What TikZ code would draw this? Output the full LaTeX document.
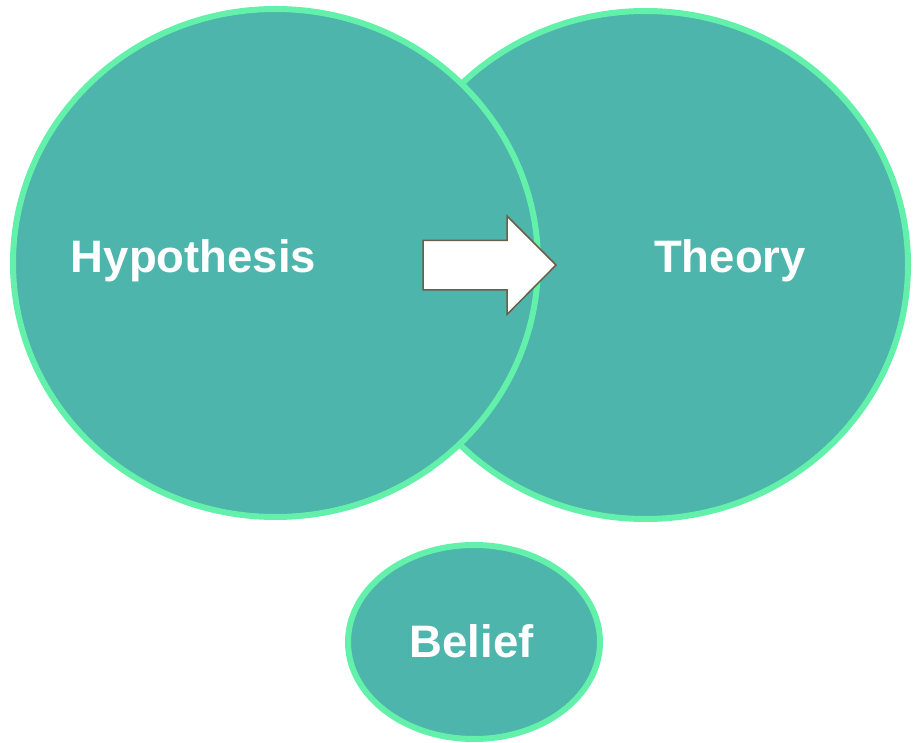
\documentclass[tikz,border=0pt]{standalone}
\usepackage{fontspec}
\setmainfont{Liberation Sans}
\usetikzlibrary{shapes.geometric}
\definecolor{tealfill}{HTML}{4DB5AB}
\definecolor{mintline}{HTML}{62F0AA}
\definecolor{arrowline}{HTML}{6E5E48}
\tikzset{
  x=1pt, y=-1pt,
  bubble/.style={shape=ellipse, draw=mintline, fill=tealfill, line width=6pt, inner sep=0pt},
  bubbletext/.style={text=white, font=\fontsize{45.5}{50}\selectfont\bfseries, inner sep=0pt, anchor=base},
  blockarrow/.style={draw=arrowline, fill=white, line width=1.5pt, line join=miter}
}
\begin{document}
\begin{tikzpicture}
\useasboundingbox (0,0) rectangle (913,743);
% the two overlapping circles, the left one lying on top
\node[bubble, minimum width=525pt, minimum height=508pt] (theory) at (645.5,265) {};
\node[bubble, minimum width=525pt, minimum height=508pt] (hypothesis) at (275.5,263) {};
% the small circle below
\node[bubble, minimum width=252pt, minimum height=194pt] (belief) at (474,642) {};
% block arrow from one circle into the other
\draw[blockarrow] (423,240.5) -- (507,240.5) -- (507,216) -- (556,265)
  -- (507,314.5) -- (507,290) -- (423,290) -- cycle;
% labels
\node[bubbletext] (hyplabel) at (193.5,273) {Hypothesis};
\node[bubbletext] (theorylabel) at (730,273) {Theory};
\node[bubbletext] (belieflabel) at (471.5,657) {Belief};
\end{tikzpicture}
\end{document}
